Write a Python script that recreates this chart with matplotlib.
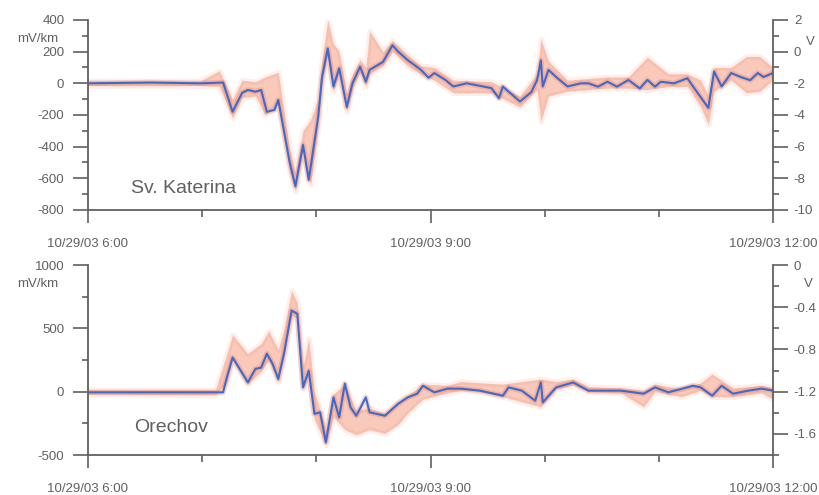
import matplotlib
matplotlib.use("Agg")
import matplotlib.pyplot as plt
import matplotlib.dates as mdates
from matplotlib.ticker import MultipleLocator, FuncFormatter
import numpy as np
import pandas as pd

plt.rcParams["font.family"] = ["Liberation Sans", "DejaVu Sans"]
plt.rcParams["axes.unicode_minus"] = False

T0 = pd.Timestamp("2003-10-29 06:00")

# Sv. Katerina: minuty po 6:00, mV/km
kat_min = [0, 33, 59, 71, 76, 77, 81, 84, 88, 91, 94, 98, 100, 106, 109, 113, 116, 121, 123, 126,
           129, 132, 136, 139, 143, 146, 148, 155, 160, 163, 168, 175, 179, 182, 188, 192, 199, 212, 216, 218,
           227, 233, 236, 238, 239, 242, 246, 252, 259, 263, 268, 273, 278, 284, 290, 294, 298, 301, 308, 315,
           318, 326, 329, 333, 338, 343, 348, 352, 355, 360]
kat_mv = [0, 5, 0, 5, -180, -155, -60, -42, -53, -42, -180, -168, -105, -500, -650, -390, -610, -210, 40, 220,
          -20, 95, -150, 0, 105, 10, 85, 135, 240, 200, 147, 85, 35, 65, 20, -20, 0, -30, -95, -20,
          -115, -55, 20, 145, -20, 85, 40, -20, 0, 0, -21, 10, -21, 21, -32, 21, -21, 10, 0, 32,
          -20, -155, 75, -20, 65, 40, 20, 65, 40, 65]
kat_pas_min = [0, 59, 69, 76, 81, 88, 93, 100, 106, 109, 113, 117, 121, 123, 126, 129, 132, 136, 139, 143,
               146, 148, 155, 160, 168, 175, 182, 192, 212, 227, 236, 238, 242, 252, 273, 284, 294, 305, 315, 322,
               326, 329, 338, 346, 353, 360]
kat_pas_lo = [-15, -15, -20, -220, -90, -80, -200, -130, -560, -680, -430, -640, -260, 0, 180, -50, 60, -180, -30, 70,
              -20, 60, 110, 200, 110, 55, 20, -60, -60, -150, -40, -240, -80, -50, -30, -30, -40, -20, -20, -150,
              -260, -50, 20, -60, -50, 20]
kat_pas_hi = [15, 15, 80, -100, 20, 10, 40, 70, -420, -560, -300, -230, -100, 150, 400, 250, 200, -60, 60, 150,
              100, 330, 200, 270, 180, 110, 100, 20, 10, -80, 60, 280, 140, 20, 40, 40, 165, 60, 60, 20,
              -80, 100, 100, 170, 170, 100]

# Orechov
ore_min = [0, 59, 71, 73, 76, 84, 88, 91, 94, 97, 100, 103, 107, 110, 113, 116, 119, 122, 125, 129,
           132, 135, 138, 141, 146, 148, 156, 163, 168, 173, 176, 182, 189, 196, 206, 218, 221, 228, 235, 238,
           239, 246, 255, 263, 280, 292, 298, 305, 318, 322, 328, 333, 339, 347, 354, 360]
ore_mv = [-5, -5, -5, 113, 270, 73, 180, 190, 300, 220, 100, 300, 640, 615, 35, 165, -175, -163, -400, -45,
          -203, 63, -124, -190, -45, -163, -190, -95, -45, -16, 47, -5, 24, 24, 8, -32, 34, 8, -71, 73,
          -84, 34, 73, 8, 8, -16, 34, -5, 47, 34, -32, 47, -16, 8, 24, 8]
ore_pas_min = [0, 67, 73, 76, 84, 91, 95, 100, 103, 107, 110, 113, 116, 119, 125, 129, 135, 141, 148, 156,
               163, 168, 176, 189, 196, 206, 218, 238, 246, 255, 263, 280, 292, 298, 312, 322, 328, 339, 354, 360]
ore_pas_lo = [-20, -25, 80, 250, 60, 160, 250, 80, 280, 600, 580, 20, 120, -220, -420, -200, -300, -340, -300, -330,
              -260, -170, -60, -10, 10, 0, -40, -120, 20, 50, 0, -10, -120, 0, -40, 10, -40, -40, -10, -60]
ore_pas_hi = [15, 15, 300, 450, 300, 380, 480, 330, 500, 800, 700, 200, 420, 0, -300, -20, 60, -150, -130, -170,
              -80, -30, 60, 50, 80, 70, 60, 100, 80, 100, 40, 30, 10, 60, 20, 70, 140, 30, 50, 30]

_MODRA = "#3a6bd2"
_ORANZ = "#f26a40"
_SEDA = "#606060"


def _cas(minuty):
    return T0 + pd.to_timedelta(np.asarray(minuty), unit="m")


def panel(ax, minuty, mv, pmin, plo, phi, ylim, ystep, ymin_step, vlim, vstep, vmin_step, vfmt, nazev, nazev_xy):
    t = _cas(minuty)
    tp = _cas(pmin)
    # rozmazany oranzovy pas
    ax.fill_between(tp, plo, phi, color=_ORANZ, alpha=0.1, linewidth=4)
    ax.fill_between(tp, plo, phi, color=_ORANZ, alpha=0.28, linewidth=0)
    ax.plot(t, mv, color=_ORANZ, lw=4, alpha=0.28, solid_capstyle="round")
    ax.plot(t, mv, color=_MODRA, lw=1.5)

    ax.set_xlim(T0, T0 + pd.Timedelta(hours=6))
    ax.set_ylim(*ylim)
    ax.yaxis.set_major_locator(MultipleLocator(ystep))
    ax.yaxis.set_minor_locator(MultipleLocator(ymin_step))
    ax.xaxis.set_major_locator(mdates.HourLocator(byhour=[6, 9, 12]))
    ax.xaxis.set_minor_locator(mdates.HourLocator())
    ax.xaxis.set_major_formatter(mdates.DateFormatter("%m/%d/%y %-H:%M"))

    ax.spines["top"].set_visible(False)
    ax.spines["right"].set_visible(False)
    for s in ("left", "bottom"):
        ax.spines[s].set_color(_SEDA)
        ax.spines[s].set_linewidth(1.3)
    ax.tick_params(axis="y", which="major", length=11, width=1.2, color=_SEDA,
                   labelsize=9.5, labelcolor=_SEDA, pad=6)
    ax.tick_params(axis="y", which="minor", length=4.5, width=1.2, color=_SEDA)
    ax.tick_params(axis="x", which="major", length=9, width=1.2, color=_SEDA,
                   labelsize=9.5, labelcolor=_SEDA, pad=11)
    ax.tick_params(axis="x", which="minor", length=5, width=1.2, color=_SEDA)

    ax2 = ax.twinx()
    ax2.set_ylim(*vlim)
    ax2.yaxis.set_major_locator(MultipleLocator(vstep))
    ax2.yaxis.set_minor_locator(MultipleLocator(vmin_step))
    ax2.yaxis.set_major_formatter(FuncFormatter(vfmt))
    for s in ("left", "top", "bottom"):
        ax2.spines[s].set_visible(False)
    ax2.spines["right"].set_color(_SEDA)
    ax2.spines["right"].set_linewidth(1.3)
    ax2.tick_params(axis="y", which="major", length=11, width=1.2, color=_SEDA,
                    labelsize=9.5, labelcolor=_SEDA, pad=4)
    ax2.tick_params(axis="y", which="minor", length=4.5, width=1.2, color=_SEDA)

    ax.text(nazev_xy[0], nazev_xy[1], nazev, transform=ax.transAxes, fontsize=14,
            color=_SEDA, ha="center", va="center")


fig = plt.figure(figsize=(8.2, 4.95), dpi=100)
ax_a = fig.add_axes([0.1073, 0.5758, 0.8354, 0.3838])
ax_b = fig.add_axes([0.1073, 0.0808, 0.8354, 0.3838])

panel(ax_a, kat_min, kat_mv, kat_pas_min, kat_pas_lo, kat_pas_hi,
      (-800, 400), 200, 100, (-10, 2), 2, 1,
      lambda v, _: f"{v:.0f}", "Sv. Katerina", (0.139, 0.115))
panel(ax_b, ore_min, ore_mv, ore_pas_min, ore_pas_lo, ore_pas_hi,
      (-500, 1000), 500, 250, (-1.8, 0), 0.4, 0.2,
      lambda v, _: "0" if abs(v) < 1e-9 else f"{v:.1f}", "Orechov", (0.121, 0.147))

fig.text(38 / 820, 1 - 39 / 495, "mV/km", fontsize=9.5, color=_SEDA, ha="center", va="center")
fig.text(38 / 820, 1 - 284 / 495, "mV/km", fontsize=9.5, color=_SEDA, ha="center", va="center")
fig.text(810 / 820, 1 - 42 / 495, "V", fontsize=9.5, color=_SEDA, ha="center", va="center")
fig.text(808 / 820, 1 - 284 / 495, "V", fontsize=9.5, color=_SEDA, ha="center", va="center")

fig.savefig("out.png", dpi=100)
